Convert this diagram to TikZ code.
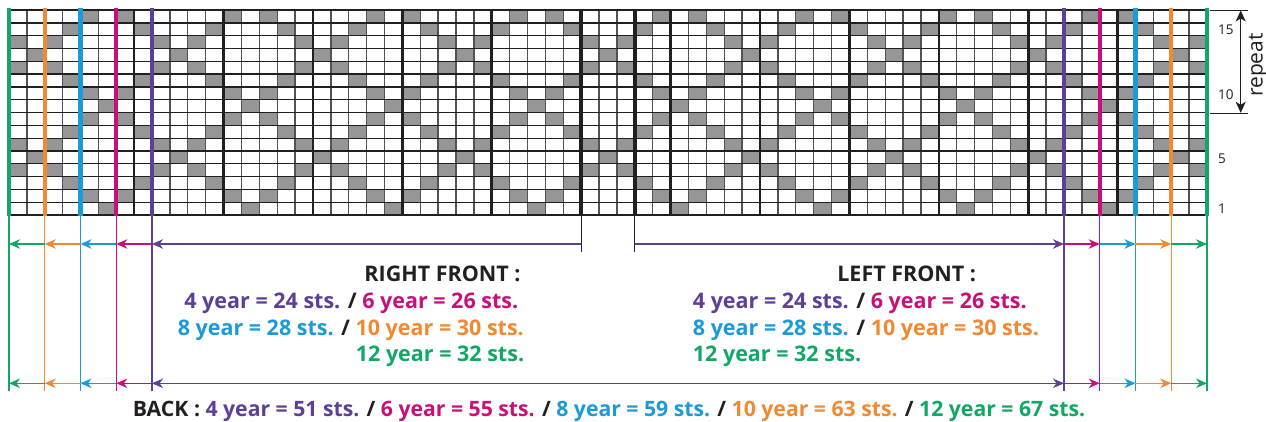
\documentclass[tikz,border=0pt]{standalone}
\usepackage{fontspec}
\setmainfont{Open Sans}
\usetikzlibrary{arrows.meta}
\definecolor{cpur}{RGB}{94,63,152}
\definecolor{cmag}{RGB}{200,16,122}
\definecolor{cblu}{RGB}{28,154,214}
\definecolor{cora}{RGB}{240,138,50}
\definecolor{cgrn}{RGB}{16,168,100}
\definecolor{cgry}{RGB}{150,150,152}
\definecolor{cink}{RGB}{35,31,32}
\begin{document}
\begin{tikzpicture}[x=1pt,y=-1pt,
  cellfill/.style={fill=cgry},
  vthin/.style={draw=black!68,line width=1.3pt},
  hthin/.style={draw=black!88,line width=1.2pt},
  gthick/.style={draw=cink,line width=2.6pt,line cap=rect},
  gxthick/.style={draw=cink,line width=4.6pt},
  sizeline/.style={line width=4.3pt},
  extline/.style={line width=1.3pt},
  dimarrow/.style={line width=1.4pt,-{Stealth[length=11pt,width=9.5pt,inset=3.5pt]}},
  dimboth/.style={line width=1.4pt,{Stealth[length=11pt,width=9.5pt,inset=3.5pt]}-{Stealth[length=11pt,width=9.5pt,inset=3.5pt]}},
  lbl/.style={font=\fontsize{21.5}{26}\selectfont\bfseries,text=cink,inner sep=0pt},
  rowlbl/.style={font=\fontsize{13.5}{16}\selectfont,text=cink,inner sep=0pt,anchor=base west},
]
\useasboundingbox (0,0) rectangle (1266,422);
\fill[white] (0,0) rectangle (1266,422);
\pgfmathsetmacro\cellw{17.8806}
\pgfmathsetmacro\rowh{12.8125}
% grey cells
\foreach \r in {1,...,16}{
  \pgfmathtruncatemacro\kA{4-abs(mod(\r-1,8)-4)}
  \pgfmathtruncatemacro\kB{mod(8-\kA,8)}
  \foreach \c in {0,...,66}{
    \pgfmathtruncatemacro\mm{mod(\c+3,8)}
    \pgfmathtruncatemacro\on{or(\mm==\kA,\mm==\kB)}
    \ifnum\on=1\relax
      \fill[cellfill] ({9+\c*\cellw},{215-\r*\rowh}) rectangle ({9+(\c+1)*\cellw},{215-(\r-1)*\rowh});
    \fi
  }
}
% thin grid
\foreach \c in {1,...,66} \draw[vthin] ({9+\c*\cellw},10) -- ({9+\c*\cellw},215);
\foreach \r in {1,...,15} \draw[hthin] (9,{215-\r*\rowh}) -- (1207,{215-\r*\rowh});
% thick grid
\foreach \r in {0,5,10,15,16} \draw[gthick] (9,{215-\r*\rowh}) -- (1207,{215-\r*\rowh});
\foreach \c in {0,2,7,12,17,22,27,37,42,47,52,57,62,67} \draw[gthick] ({9+\c*\cellw},10) -- ({9+\c*\cellw},215);
\foreach \c in {32,35} \draw[gxthick] ({9+\c*\cellw},10) -- ({9+\c*\cellw},215);
% coordinates for the size columns
\foreach \c in {0,2,4,6,8,32,35,59,61,63,65,67}{
  \coordinate (gt\c) at ({9+\c*\cellw},8);
  \coordinate (gb\c) at ({9+\c*\cellw},216.5);
  \coordinate (da\c) at ({9+\c*\cellw},244);
  \coordinate (db\c) at ({9+\c*\cellw},383.3);
  \coordinate (de\c) at ({9+\c*\cellw},391);
  \coordinate (dt\c) at ({9+\c*\cellw},252);
}
% coloured size lines
\foreach \c/\col in {0/cgrn,2/cora,4/cblu,6/cmag,8/cpur,59/cpur,61/cmag,63/cblu,65/cora,67/cgrn}{
  \draw[sizeline,\col] (gt\c) -- (gb\c);
  \draw[extline,\col] (gb\c) -- (de\c);
}
% centre ticks
\draw[extline,cink] (gb32) -- (dt32);
\draw[extline,cink] (gb35) -- (dt35);
% top dimension arrows
\draw[dimarrow,cgrn] (da2) -- (da0);
\draw[dimarrow,cora] (da4) -- (da2);
\draw[dimarrow,cblu] (da6) -- (da4);
\draw[dimarrow,cmag] (da8) -- (da6);
\draw[dimarrow,cpur] (da32) -- (da8);
\draw[dimarrow,cpur] (da35) -- (da59);
\draw[dimarrow,cmag] (da59) -- (da61);
\draw[dimarrow,cblu] (da61) -- (da63);
\draw[dimarrow,cora] (da63) -- (da65);
\draw[dimarrow,cgrn] (da65) -- (da67);
% bottom dimension arrows
\draw[dimarrow,cgrn] (db2) -- (db0);
\draw[dimarrow,cora] (db4) -- (db2);
\draw[dimarrow,cblu] (db6) -- (db4);
\draw[dimarrow,cmag] (db8) -- (db6);
\draw[dimboth,cpur] (db8) -- (db59);
\draw[dimarrow,cmag] (db59) -- (db61);
\draw[dimarrow,cblu] (db61) -- (db63);
\draw[dimarrow,cora] (db63) -- (db65);
\draw[dimarrow,cgrn] (db65) -- (db67);
% repeat marker
\coordinate (rt0) at (1210,10);
\coordinate (rt1) at (1248,10);
\coordinate (rb0) at (1210,113.3);
\coordinate (rb1) at (1248,113.3);
\coordinate (ra0) at (1240.7,10.5);
\coordinate (ra1) at (1240.7,112.8);
\draw[line width=0.9pt,cink] (rt0) -- (rt1);
\draw[line width=0.9pt,cink] (rb0) -- (rb1);
\draw[line width=1.1pt,cink,{Stealth[length=11pt,width=10pt,inset=3pt]}-{Stealth[length=11pt,width=10pt,inset=3pt]}] (ra0) -- (ra1);
\node[font=\fontsize{21}{24}\selectfont,text=cink,inner sep=0pt,rotate=90,anchor=base] (rep) at (1262.5,65) {repeat};
% row numbers
\node[rowlbl] (n15) at (1218,34.5) {15};
\node[rowlbl] (n10) at (1218,100) {10};
\node[rowlbl] (n5) at (1218,164) {5};
\node[rowlbl] (n1) at (1218,213.5) {1};
% right front
\node[lbl,anchor=base] (rf) at (442.5,281.7) {RIGHT FRONT :};
\node[lbl,anchor=base] (rf2) at (351.3,308) {\textcolor{cpur}{4 year = 24 sts.} / \textcolor{cmag}{6 year = 26 sts.}};
\node[lbl,anchor=base] (rf3) at (350.8,335) {\textcolor{cblu}{8 year = 28 sts.} / \textcolor{cora}{10 year = 30 sts.}};
\node[lbl,anchor=base,text=cgrn] (rf4) at (440,361.7) {12 year = 32 sts.};
% left front
\node[lbl,anchor=base] (lf) at (906.7,281.7) {LEFT FRONT :};
\node[lbl,anchor=base west] (lf2) at (692.7,308.5) {\textcolor{cpur}{4 year = 24 sts.} / \textcolor{cmag}{6 year = 26 sts.}};
\node[lbl,anchor=base west] (lf3) at (692.7,335) {\textcolor{cblu}{8 year = 28 sts.} / \textcolor{cora}{10 year = 30 sts.}};
\node[lbl,anchor=base west,text=cgrn] (lf4) at (692.7,361.5) {12 year = 32 sts.};
% back
\node[lbl,anchor=base,font=\fontsize{21.2}{26}\selectfont\bfseries] (bk) at (609,416.7) {BACK : \textcolor{cpur}{4 year = 51 sts.} / \textcolor{cmag}{6 year = 55 sts.} / \textcolor{cblu}{8 year = 59 sts.} / \textcolor{cora}{10 year = 63 sts.} / \textcolor{cgrn}{12 year = 67 sts.}};
\end{tikzpicture}
\end{document}
